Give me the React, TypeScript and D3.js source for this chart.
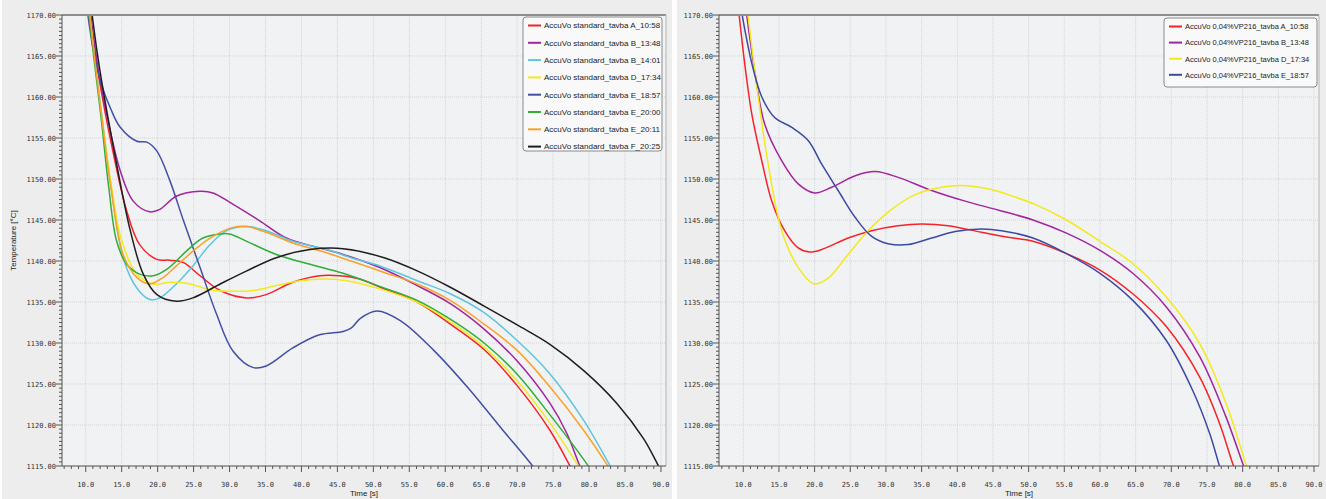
import React from 'react';
import * as d3 from 'd3';

type Pt = [number, number];

const W = 1326;
const H = 499;

const yTicks = [1115, 1120, 1125, 1130, 1135, 1140, 1145, 1150, 1155, 1160, 1165, 1170];
const xTicks = [10, 15, 20, 25, 30, 35, 40, 45, 50, 55, 60, 65, 70, 75, 80, 85, 90];

// left chart: standard
const leftNames = [
  'AccuVo standard_tavba A_10:58',
  'AccuVo standard_tavba B_13:48',
  'AccuVo standard_tavba B_14:01',
  'AccuVo standard_tavba D_17:34',
  'AccuVo standard_tavba E_18:57',
  'AccuVo standard_tavba E_20:00',
  'AccuVo standard_tavba E_20:11',
  'AccuVo standard_tavba F_20:25',
];
const leftColors = ['#f5222a', '#a1259e', '#5cc6e0', '#f2ea1c', '#434fa6', '#2fae3a', '#f9a22a', '#1e1e1e'];

const stdA1058: Pt[] = [[10.3,1172],[11.2,1166],[12,1161.5],[13.4,1155],[15.7,1146.1],[17.5,1142],[19.9,1140.2],[21.7,1140.1],[23.6,1139.8],[25.9,1138.2],[28.7,1136.4],[32.4,1135.5],[35.1,1135.9],[38.8,1137.4],[42.5,1138.2],[45.3,1138.2],[48.1,1137.8],[51.5,1136.6],[56.1,1135],[60.7,1132.3],[65.4,1129.2],[70,1124.8],[74.6,1119.3],[77.6,1114.6],[78,1114]];
const stdB1348: Pt[] = [[10.4,1172],[11.3,1166],[12,1162],[13.4,1155.9],[14.8,1151],[16.6,1147.3],[18.9,1146],[20.3,1146.3],[22.6,1147.9],[25.9,1148.5],[27.7,1148.3],[30.5,1146.9],[34.2,1144.9],[37.9,1142.8],[41.6,1141.8],[45.8,1140.8],[50.9,1139.2],[56.1,1137],[60.7,1134.8],[65.4,1131.7],[70,1127.8],[74.6,1122.6],[76.9,1119],[78.9,1114.6],[79.3,1114]];
const stdB1401: Pt[] = [[10.2,1172],[11.2,1165],[12.2,1158],[13.4,1149.8],[15.2,1140.4],[17.1,1136.7],[18.9,1135.3],[20.3,1135.5],[22.6,1137.2],[24.9,1139.4],[27.3,1142],[29.6,1143.7],[32.4,1144.2],[35.1,1143.7],[38.8,1142.4],[43.5,1141.4],[46.9,1140.4],[50.9,1139.4],[56.1,1137.6],[60.7,1136],[65.4,1133.7],[70,1130.3],[74.6,1126.2],[79.3,1120.5],[83.2,1114.6],[83.6,1114]];
const stdD1734: Pt[] = [[10.3,1172],[11.2,1165],[12.3,1157],[13.6,1149],[15,1142.5],[17.1,1138.4],[19.4,1137.2],[21.7,1137.4],[24,1137.3],[27.3,1136.5],[30.5,1136.3],[33.3,1136.4],[36.5,1137],[39.8,1137.6],[43.5,1137.8],[46.3,1137.6],[50.9,1136.6],[56.1,1135],[60.7,1132.6],[65.4,1129.5],[70,1125.4],[74.6,1120.2],[78.8,1114.6],[79.2,1114]];
const stdE1857: Pt[] = [[10,1172],[11,1166],[12.2,1161.5],[13.5,1158.5],[14.8,1156.3],[17.1,1154.6],[18.5,1154.5],[19.9,1153.4],[21.7,1149.8],[23.6,1144.9],[25.9,1139.2],[28.2,1133.5],[30.5,1129],[33.3,1127],[35.1,1127.2],[38.8,1129.4],[42.5,1131],[45.8,1131.4],[46.9,1131.8],[48.2,1133],[50.5,1133.9],[53.8,1132.7],[58.4,1129.1],[63.1,1124.6],[67.7,1119.7],[72.5,1114.6],[72.9,1114]];
const stdE2000: Pt[] = [[10.2,1172],[11.1,1165],[12.2,1157],[13.2,1149],[14.3,1142.4],[15.7,1139.6],[17.5,1138.4],[19.4,1138.2],[21.3,1139],[24,1141.2],[26.3,1142.8],[28.7,1143.3],[30,1143.3],[32.4,1142.4],[36.5,1140.8],[41.2,1139.6],[45.8,1138.5],[50.9,1136.9],[56.1,1135.2],[60.7,1132.9],[65.4,1130],[70,1126.2],[74.6,1121.2],[78,1117.3],[80.2,1114.6],[80.6,1114]];
const stdE2011: Pt[] = [[10.3,1172],[11.2,1165],[12.3,1157],[13.5,1149],[15.2,1140.8],[17.1,1138],[18.9,1137.2],[20.8,1138],[22.6,1139.4],[24.9,1141.2],[27.3,1142.8],[30.5,1144.1],[32.4,1144.2],[35.1,1143.5],[38.8,1142.2],[43.5,1141],[46.9,1140],[51.5,1138.6],[56.1,1137.2],[60.7,1135.2],[65.4,1132.3],[70,1129.1],[74.6,1124.6],[79.3,1119.3],[82.9,1114.6],[83.3,1114]];
const stdF2025: Pt[] = [[10.6,1172],[11.5,1166],[12.2,1162],[14.3,1151.8],[16.2,1143.7],[18,1138.4],[19.9,1135.9],[22.6,1135.1],[24.9,1135.5],[28.7,1137.2],[32.4,1138.8],[36.5,1140.4],[41.2,1141.4],[45.8,1141.5],[51.5,1140.4],[56.1,1138.8],[60.7,1136.8],[65.4,1134.5],[70,1132.2],[74.6,1129.8],[79.3,1126.6],[83.9,1122.6],[87.6,1118.3],[89.9,1114.6],[90.3,1114]];
const leftSeries = [stdA1058, stdB1348, stdB1401, stdD1734, stdE1857, stdE2000, stdE2011, stdF2025];

// right chart: 0,04% VP216
const rightNames = [
  'AccuVo 0,04%VP216_tavba A_10:58',
  'AccuVo 0,04%VP216_tavba B_13:48',
  'AccuVo 0,04%VP216_tavba D_17:34',
  'AccuVo 0,04%VP216_tavba E_18:57',
];
const rightColors = ['#f5222a', '#a1259e', '#f2ea1c', '#3d4aa3'];

const vpA1058: Pt[] = [[9.3,1171],[10.2,1164.1],[11.2,1157.9],[12.6,1152.2],[14,1147.3],[15.8,1143.7],[17.7,1141.6],[19.3,1141.1],[21,1141.4],[24.7,1142.8],[28,1143.7],[31.7,1144.3],[35,1144.5],[38.7,1144.3],[43.4,1143.5],[47.1,1142.9],[50.6,1142.4],[55.3,1140.9],[60,1138.9],[64.6,1136],[69.3,1132],[74,1125.8],[76.8,1120.1],[78.9,1114.6],[79.3,1114]];
const vpB1348: Pt[] = [[10.3,1171.2],[11.6,1163.2],[13,1156.7],[15.4,1152.2],[17.7,1149.4],[20,1148.3],[22.4,1149],[25.7,1150.4],[28.5,1150.9],[31.7,1150.2],[36.4,1148.6],[41.1,1147.3],[45.8,1146.2],[50.6,1145],[55.3,1143.4],[60,1141.3],[64.6,1138.5],[69.3,1134.4],[74,1128.3],[77.7,1120.9],[80.3,1114.6],[80.6,1114]];
const vpD1734: Pt[] = [[10.5,1171.2],[12.1,1160],[13.5,1151.8],[15.4,1143.7],[17.7,1139.2],[20,1137.2],[21.9,1137.9],[24.7,1140.8],[27.5,1143.7],[30.8,1146.3],[34.1,1148.1],[37.8,1149],[40.6,1149.2],[44.3,1148.8],[48.1,1147.8],[50.9,1146.9],[55.3,1145],[60,1142.4],[64.6,1139.7],[69.3,1135.6],[74,1129.9],[77.7,1122.6],[80.7,1114.6],[81,1114]];
const vpE1857: Pt[] = [[9.6,1171.2],[11.2,1164.1],[12.6,1160],[14.4,1157.5],[16.8,1156.3],[19.1,1154.7],[21,1151.8],[23.3,1148.6],[25.7,1145.3],[28,1143],[30.3,1142.1],[33.1,1142],[36.4,1142.8],[39.7,1143.6],[43.4,1143.9],[46.2,1143.7],[50.6,1142.8],[55.3,1140.9],[60,1138.5],[64.6,1135.2],[69.3,1130.3],[73,1124.2],[75.4,1118.9],[76.9,1114.6],[77.2,1114]];
const rightSeries = [vpA1058, vpB1348, vpD1734, vpE1857];

const monoFont = '"DejaVu Sans Mono", monospace';
const sansFont = '"Liberation Sans", Arial, sans-serif';

interface ChartProps {
  id: string;
  left: number;
  right: number;
  domain: [number, number];
  series: Pt[][];
  names: string[];
  colors: string[];
  legend: { x: number; y: number; w: number; h: number; step: number; font: number };
  yTitle?: string;
}

function Chart({ id, left, right, domain, series, names, colors, legend, yTitle }: ChartProps) {
  const top = 15;
  const bottom = 466;
  const x = d3.scaleLinear().domain(domain).range([left, right]);
  const y = d3.scaleLinear().domain([1115, 1170]).range([bottom, top]);
  const line = d3.line<Pt>()
    .x(d => x(d[0]))
    .y(d => y(d[1]))
    .curve(d3.curveCatmullRom.alpha(0.5));

  const xMinor = d3.range(Math.ceil(domain[0]), Math.floor(domain[1]) + 1);
  const yMinor = d3.range(1115, 1170.01, 0.5);

  return (
    <g>
      <defs>
        <clipPath id={id}>
          <rect x={left} y={top} width={right - left} height={bottom - top} />
        </clipPath>
      </defs>
      <rect x={left} y={top} width={right - left} height={bottom - top} fill="#f1f2f3" />
      {xTicks.map(t => (
        <line key={'gx' + t} x1={x(t)} x2={x(t)} y1={top} y2={bottom}
          stroke="#d4d4d6" strokeDasharray="1,1" />
      ))}
      {yTicks.map(v => (
        <line key={'gy' + v} x1={left} x2={right} y1={y(v)} y2={y(v)}
          stroke="#d4d4d6" strokeDasharray="1,1" />
      ))}
      <g clipPath={`url(#${id})`}>
        {series.map((s, i) => (
          <path key={names[i]} d={line(s) || ''} fill="none" stroke={colors[i]} strokeWidth={1.5} />
        ))}
      </g>
      <line x1={left} x2={right} y1={top} y2={top} stroke="#8e8e8e" strokeWidth={2} />
      <line x1={right} x2={right} y1={top} y2={bottom} stroke="#b5b5b5" />
      <line x1={left} x2={right} y1={bottom} y2={bottom} stroke="#555" />
      <line x1={left} x2={left} y1={top} y2={bottom} stroke="#555" />
      {xMinor.map(t => (
        <line key={'xm' + t} x1={x(t)} x2={x(t)} y1={bottom} y2={bottom + (t % 5 === 0 ? 6 : 3)} stroke="#555" />
      ))}
      {yMinor.map(v => (
        <line key={'ym' + v} x1={left} x2={left - (v % 5 === 0 ? 6 : 3)} y1={y(v)} y2={y(v)} stroke="#555" />
      ))}
      {xTicks.map(t => (
        <text key={'xl' + t} x={x(t)} y={487} textAnchor="middle" fontFamily={monoFont} fontSize={7} fill="#333">
          {t.toFixed(1)}
        </text>
      ))}
      {yTicks.map(v => (
        <text key={'yl' + v} x={left - 6} y={y(v) + 2.5} textAnchor="end" fontFamily={monoFont} fontSize={7} fill="#333">
          {v.toFixed(2)}
        </text>
      ))}
      <text x={(left + right) / 2} y={496} textAnchor="middle" fontFamily={sansFont} fontSize={8} fill="#222">
        Time [s]
      </text>
      {yTitle && (
        <text transform={`translate(16,${(top + bottom) / 2}) rotate(-90)`} textAnchor="middle"
          fontFamily={sansFont} fontSize={8} fill="#222">
          {yTitle}
        </text>
      )}
      <rect x={legend.x} y={legend.y} width={legend.w} height={legend.h} rx={3}
        fill="#f9f9f9" stroke="#8a8a8a" strokeWidth={1} />
      {names.map((n, i) => {
        const ly = legend.y + 8.5 + i * legend.step;
        return (
          <g key={'lg' + n}>
            <line x1={legend.x + 5} x2={legend.x + 18} y1={ly} y2={ly} stroke={colors[i]} strokeWidth={2} />
            <text x={legend.x + 21} y={ly + 2.8} fontFamily={sansFont} fontSize={legend.font} fill="#222">{n}</text>
          </g>
        );
      })}
    </g>
  );
}

export default function App() {
  return (
    <svg width={W} height={H} style={{ position: 'absolute', left: 0, top: 0, display: 'block' }}>
      <rect x={0} y={0} width={W} height={H} fill="#ffffff" />
      <rect x={2} y={0} width={670} height={H} fill="#ededed" />
      <rect x={677} y={0} width={W - 677} height={H} fill="#ededed" />
      <Chart id="clipL" left={62} right={666} domain={[6.7, 90.7]} series={leftSeries}
        names={leftNames} colors={leftColors}
        legend={{ x: 523, y: 17, w: 139, h: 134, step: 17.3, font: 8 }} yTitle="Temperature [°C]" />
      <Chart id="clipR" left={719} right={1319} domain={[6.6, 90.7]} series={rightSeries}
        names={rightNames} colors={rightColors}
        legend={{ x: 1164, y: 18, w: 153, h: 69, step: 16.1, font: 7.5 }} />
    </svg>
  );
}
